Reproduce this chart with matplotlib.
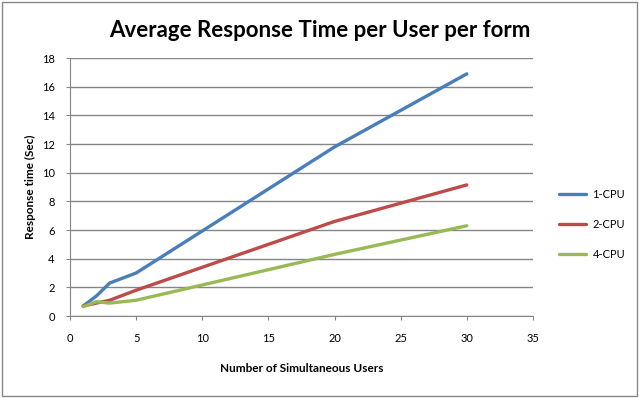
import matplotlib.pyplot as plt
from matplotlib.patches import Rectangle

users = [1, 2, 3, 5, 20, 30]
cpu1 = [0.7, 1.4, 2.3, 3.0, 11.8, 16.9]
cpu2 = [0.7, 0.9, 1.1, 1.8, 6.6, 9.15]
cpu4 = [0.65, 1.0, 0.9, 1.1, 4.3, 6.3]
labels = ['1-CPU', '2-CPU', '4-CPU']

plt.rcParams['font.family'] = ['Lato', 'DejaVu Sans']

fig = plt.figure(figsize=(6.39, 3.98), dpi=100)
fig.patches.append(Rectangle((0.003, 0.004), 0.994, 0.992, transform=fig.transFigure,
                             fill=False, edgecolor='#888888', linewidth=1))
ax = fig.add_axes([0.1095, 0.206, 0.7245, 0.648])

colors = ['#4a7ebb', '#be4b48', '#98b954']
for ys, c, lab in zip([cpu1, cpu2, cpu4], colors, labels):
    ax.plot(users, ys, color=c, linewidth=2.4, label=lab, solid_capstyle='round')

ax.set_xlim(0, 35)
ax.set_ylim(0, 18)
ax.set_xticks(range(0, 36, 5))
ax.set_yticks(range(0, 19, 2))
ax.grid(axis='y', color='#868686', linewidth=1)
ax.set_axisbelow(True)
for s in ['top', 'right']:
    ax.spines[s].set_visible(False)
for s in ['left', 'bottom']:
    ax.spines[s].set_color('#868686')
ax.tick_params(labelsize=8, length=3, color='#868686', direction='out')
ax.tick_params(axis='x', pad=9)
ax.tick_params(axis='y', pad=8)

ax.set_xlabel('Number of Simultaneous Users', fontsize=8.5, fontweight='bold', labelpad=14)
ax.set_ylabel('Response time (Sec)', fontsize=8.5, fontweight='bold', labelpad=4)
fig.suptitle('Average Response Time per User per form', fontsize=16, fontweight='bold',
             y=0.95)

ax.legend(loc='center left', bbox_to_anchor=(1.035, 0.355), frameon=False,
          fontsize=8, handlelength=2.4, handletextpad=0.6, labelspacing=1.7)

fig.savefig('out.png', dpi=100)
